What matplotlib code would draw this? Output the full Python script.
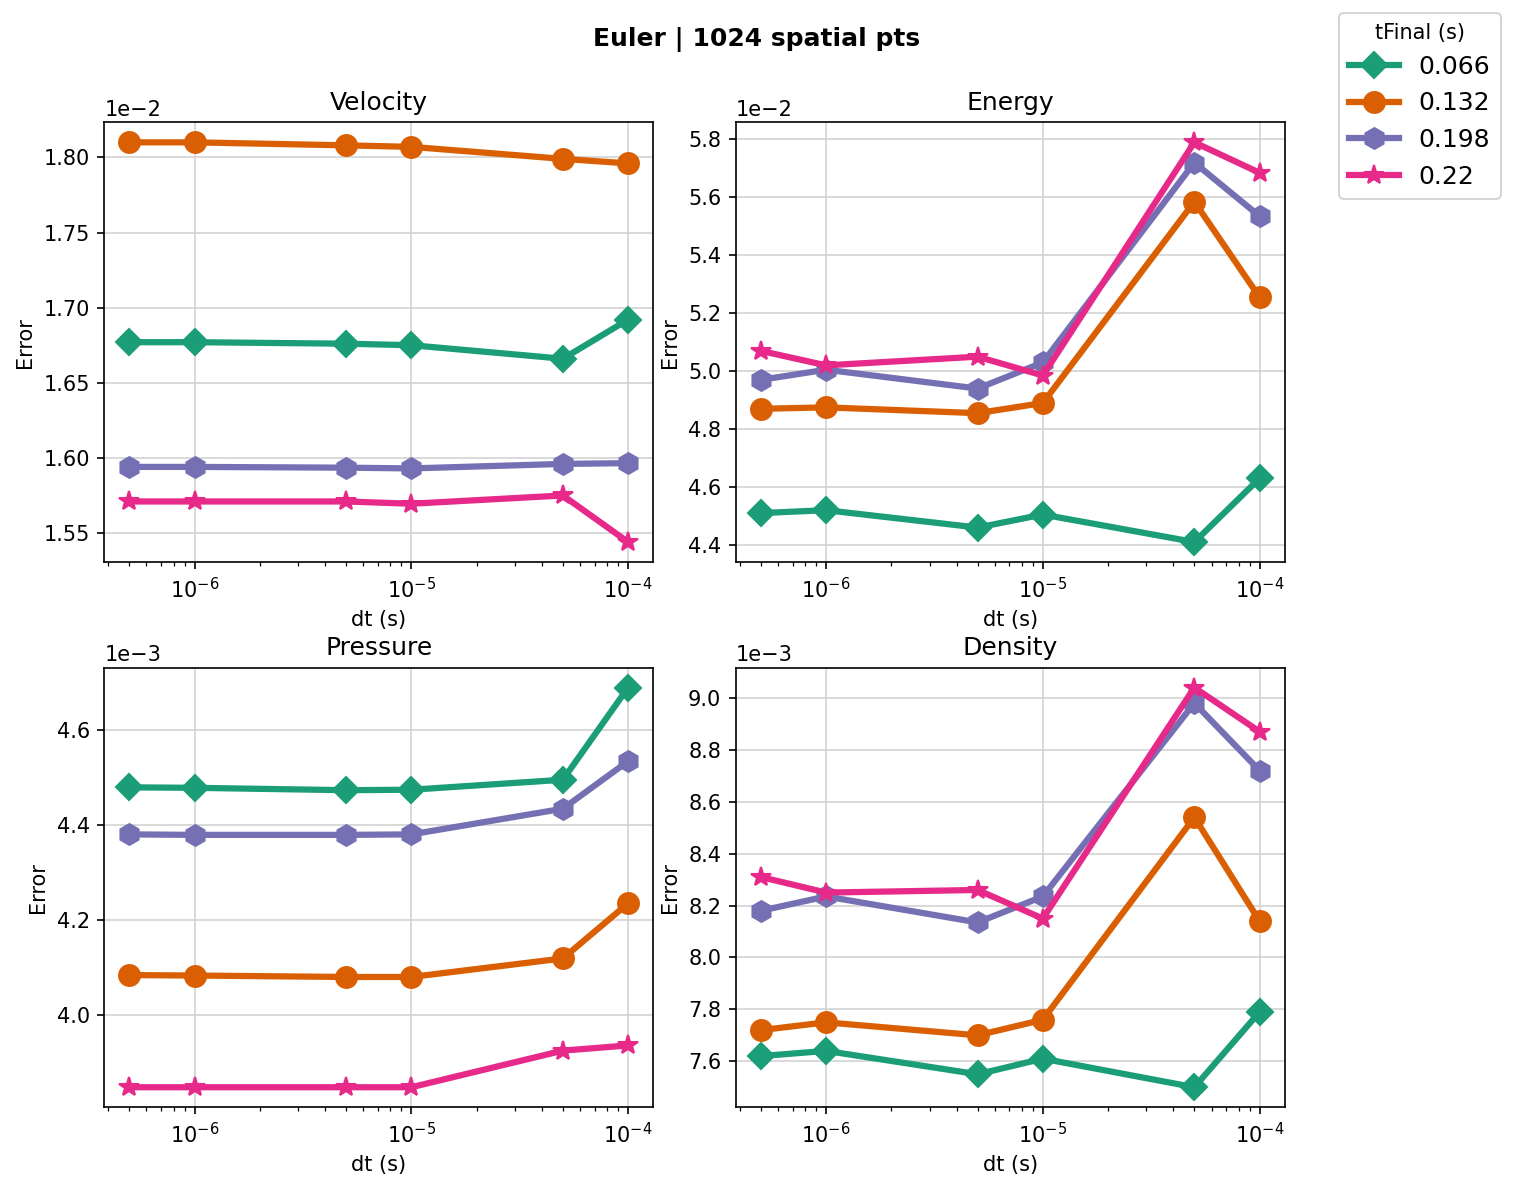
import numpy as np
import matplotlib.pyplot as plt

dt = [5e-7, 1e-6, 5e-6, 1e-5, 5e-5, 1e-4]
tfinal = ['0.066', '0.132', '0.198', '0.22']

velocity = [
    [1.677e-2, 1.677e-2, 1.676e-2, 1.675e-2, 1.666e-2, 1.692e-2],
    [1.810e-2, 1.810e-2, 1.808e-2, 1.807e-2, 1.799e-2, 1.796e-2],
    [1.594e-2, 1.594e-2, 1.5935e-2, 1.593e-2, 1.596e-2, 1.5965e-2],
    [1.571e-2, 1.571e-2, 1.571e-2, 1.5695e-2, 1.575e-2, 1.544e-2],
]
energy = [
    [4.51e-2, 4.52e-2, 4.46e-2, 4.505e-2, 4.41e-2, 4.63e-2],
    [4.87e-2, 4.875e-2, 4.855e-2, 4.89e-2, 5.585e-2, 5.255e-2],
    [4.97e-2, 5.005e-2, 4.94e-2, 5.03e-2, 5.72e-2, 5.535e-2],
    [5.07e-2, 5.02e-2, 5.05e-2, 4.985e-2, 5.79e-2, 5.685e-2],
]
pressure = [
    [4.479e-3, 4.478e-3, 4.473e-3, 4.474e-3, 4.495e-3, 4.689e-3],
    [4.084e-3, 4.083e-3, 4.080e-3, 4.080e-3, 4.119e-3, 4.235e-3],
    [4.380e-3, 4.379e-3, 4.379e-3, 4.380e-3, 4.434e-3, 4.534e-3],
    [3.848e-3, 3.848e-3, 3.848e-3, 3.848e-3, 3.925e-3, 3.936e-3],
]
density = [
    [7.62e-3, 7.64e-3, 7.55e-3, 7.61e-3, 7.50e-3, 7.79e-3],
    [7.72e-3, 7.75e-3, 7.70e-3, 7.76e-3, 8.54e-3, 8.14e-3],
    [8.18e-3, 8.235e-3, 8.135e-3, 8.235e-3, 8.98e-3, 8.72e-3],
    [8.31e-3, 8.25e-3, 8.26e-3, 8.15e-3, 9.04e-3, 8.87e-3],
]

colors = ['#1b9e77', '#d95f02', '#7570b3', '#e7298a']
markers = ['D', 'o', 'h', '*']

fig, axs = plt.subplots(2, 2, figsize=(1513/150, 1188/150), dpi=150)
fig.subplots_adjust(left=0.069, right=0.849, top=0.897, bottom=0.068,
                    wspace=0.151, hspace=0.24)

panels = [('Velocity', velocity), ('Energy', energy),
          ('Pressure', pressure), ('Density', density)]

for ax, (name, data) in zip(axs.flat, panels):
    for i in range(4):
        ax.plot(dt, data[i], color=colors[i], marker=markers[i],
                linewidth=3, markersize=10 if markers[i] != 'D' else 9,
                label=tfinal[i])
    ax.set_xscale('log')
    ax.ticklabel_format(axis='y', style='sci', scilimits=(0, 0))
    ax.grid(True, color='#d3d3d3', linewidth=0.8)
    ax.set_axisbelow(True)
    ax.set_title(name, fontsize=12)
    ax.set_xlabel('dt (s)')
    ax.set_ylabel('Error')

handles, labels = axs[0, 0].get_legend_handles_labels()
fig.legend(handles, labels, title='tFinal (s)', loc='upper right',
           bbox_to_anchor=(1.0, 1.0), fontsize=12, title_fontsize=10)
fig.suptitle('Euler | 1024 spatial pts', fontweight='bold', fontsize=12, y=0.977)

fig.savefig('out.png', dpi=150)
